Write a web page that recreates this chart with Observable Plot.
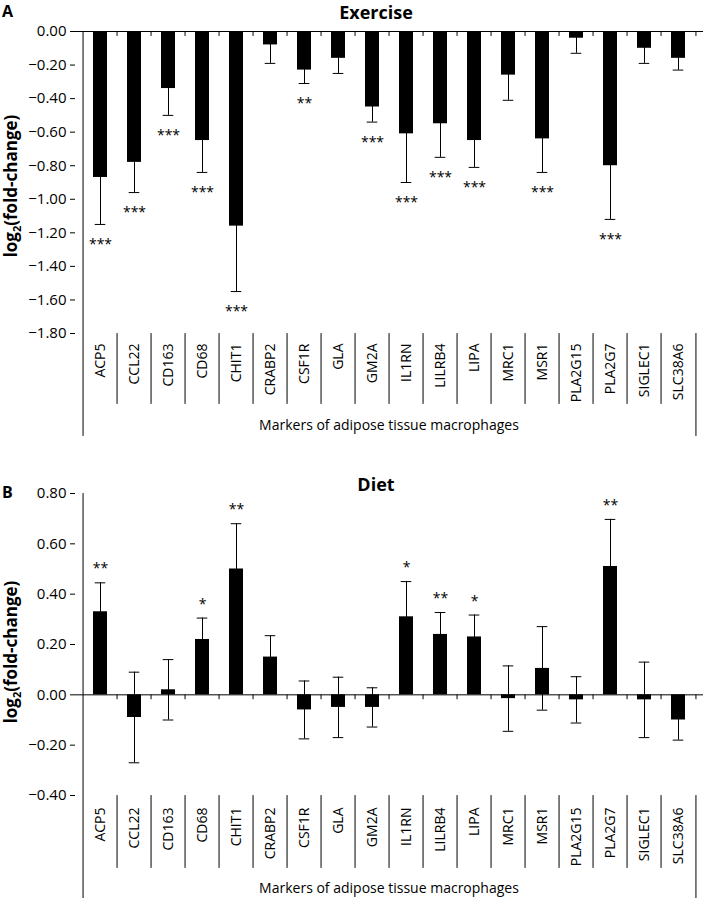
<!DOCTYPE html>
<html><head><meta charset="utf-8">
<script src="https://cdn.jsdelivr.net/npm/d3@7"></script>
<script src="https://cdn.jsdelivr.net/npm/@observablehq/plot@0.6"></script>
<style>
body{margin:0;background:#fff;}
#wrap{position:relative;width:709px;height:898px;font-family:"Open Sans",sans-serif;}
#wrap svg{display:block;}
</style></head><body><div id="wrap"></div>
<script>
const markers = ["ACP5","CCL22","CD163","CD68","CHIT1","CRABP2","CSF1R","GLA","GM2A","IL1RN","LILRB4","LIPA","MRC1","MSR1","PLA2G15","PLA2G7","SIGLEC1","SLC38A6"];

const exerciseMean = [-0.87,-0.78,-0.34,-0.65,-1.16,-0.08,-0.23,-0.16,-0.45,-0.61,-0.55,-0.65,-0.26,-0.64,-0.04,-0.80,-0.10,-0.16];
const exerciseSE   = [0.28,0.18,0.16,0.19,0.39,0.11,0.08,0.09,0.09,0.29,0.20,0.16,0.15,0.20,0.09,0.32,0.09,0.07];
const exerciseSig  = ["***","***","***","***","***","","**","","***","***","***","***","","***","","***","",""];

const dietMean = [0.33,-0.09,0.02,0.22,0.50,0.15,-0.06,-0.05,-0.05,0.31,0.24,0.23,-0.015,0.105,-0.02,0.51,-0.02,-0.10];
const dietSE   = [0.115,0.18,0.12,0.085,0.18,0.085,0.115,0.12,0.078,0.14,0.087,0.087,0.13,0.166,0.092,0.187,0.15,0.08];
const dietSig  = ["**","","","*","**","","","","","*","**","*","","","","**","",""];

const exerciseTicks = [0,-0.2,-0.4,-0.6,-0.8,-1.0,-1.2,-1.4,-1.6,-1.8];
const dietTicks = [0.8,0.6,0.4,0.2,0,-0.2,-0.4];

const W = 709, ML = 75, MR = 6;
const step = (W - ML - MR) / markers.length;
const lineShape = {draw(c, l) { c.moveTo(0, 0); c.lineTo(0, -l); }};

function panel(o) {
  const data = markers.map((m, i) => ({marker: m, value: o.mean[i], lo: o.mean[i] - o.se[i], hi: o.mean[i] + o.se[i], sig: o.sig[i]}));
  const plotH = o.height - o.mt - o.mb;
  const inner = markers.slice(1);
  const first = [markers[0]];
  const last = [markers[markers.length - 1]];
  const vec = {x: d => d, rotate: 180, anchor: "start", shape: lineShape, stroke: "#000", strokeWidth: 1};
  const chart = Plot.plot({
    width: W, height: o.height,
    marginLeft: ML, marginRight: MR, marginTop: o.mt, marginBottom: o.mb,
    style: {fontFamily: '"Open Sans", sans-serif', fontSize: "14px", color: "#000", background: "#fff", overflow: "visible"},
    x: {domain: markers, paddingInner: 0.58, paddingOuter: 0.29},
    y: {domain: o.yDomain},
    marks: [
      Plot.barY(data, {x: "marker", y: "value", fill: "#000"}),
      Plot.ruleX(data, {x: "marker", y1: "lo", y2: "hi", stroke: "#000", strokeWidth: 1, clip: true}),
      Plot.tickY(data, {x: "marker", y: "lo", stroke: "#000", strokeWidth: 1, insetLeft: 1.7, insetRight: 1.7, clip: true}),
      Plot.tickY(data, {x: "marker", y: "hi", stroke: "#000", strokeWidth: 1, insetLeft: 1.7, insetRight: 1.7, clip: true}),
      Plot.ruleY([0], {stroke: "#000", strokeWidth: 1}),
      Plot.text(data.filter(d => d.sig), {x: "marker", y: o.starKey, text: "sig", dy: o.starDy, fontSize: 14}),
      Plot.axisY({ticks: o.yTicks, tickFormat: d3.format(".2f"), tickSize: 5, tickPadding: 4, label: null, fontSize: 15}),
      Plot.axisX({anchor: "bottom", tickSize: 0, tickPadding: o.labelPad, tickRotate: -90, label: null, fontSize: 14}),
      Plot.vector(first, {...vec, frameAnchor: "top", dx: -step / 2, length: plotH + o.outerLen}),
      Plot.vector(last, {...vec, frameAnchor: "bottom", dx: step / 2, length: o.outerLen}),
      Plot.vector(inner, {...vec, frameAnchor: "bottom", dx: -step / 2, length: o.sepLen}),
      Plot.vector(inner, {...vec, y: 0, dx: -step / 2, length: 4}),
      Plot.vector(last, {...vec, y: 0, dx: step / 2, length: 4})
    ]
  });
  const svg = d3.select(chart);
  svg.append("text").attr("x", 2).attr("y", o.letterY).attr("text-anchor", "start").attr("font-weight", "bold").attr("font-size", 16).attr("fill", "#000").text(o.letter);
  svg.append("text").attr("x", 376).attr("y", o.titleY).attr("text-anchor", "middle").attr("font-weight", "bold").attr("font-size", 18).attr("fill", "#000").text(o.title);
  const yl = svg.append("text").attr("transform", `translate(17,${o.ylabelY}) rotate(-90)`).attr("text-anchor", "middle").attr("font-weight", "bold").attr("font-size", 17).attr("fill", "#000");
  yl.append("tspan").text("log");
  yl.append("tspan").attr("font-size", 11).attr("dy", 4).text("2");
  yl.append("tspan").attr("dy", -4).text("(fold-change)");
  svg.append("text").attr("x", (ML + W - MR) / 2).attr("y", o.xlabelY).attr("text-anchor", "middle").attr("font-size", 14).attr("fill", "#000").text("Markers of adipose tissue macrophages");
  return chart;
}

const wrap = document.getElementById("wrap");
wrap.appendChild(panel({
  mean: exerciseMean, se: exerciseSE, sig: exerciseSig,
  yDomain: [-1.8, 0], yTicks: exerciseTicks,
  height: 440, mt: 31, mb: 107, sepLen: 70, outerLen: 102, labelPad: 10,
  starKey: "lo", starDy: 20,
  letter: "A", letterY: 17, title: "Exercise", titleY: 19, ylabelY: 186, xlabelY: 430
}));
wrap.appendChild(panel({
  mean: dietMean, se: dietSE, sig: dietSig,
  yDomain: [-0.4, 0.8], yTicks: dietTicks,
  height: 458, mt: 53, mb: 103, sepLen: 72, outerLen: 103, labelPad: 12,
  starKey: "hi", starDy: -14,
  letter: "B", letterY: 58, title: "Diet", titleY: 51, ylabelY: 212, xlabelY: 453
}));
</script>
</body></html>
